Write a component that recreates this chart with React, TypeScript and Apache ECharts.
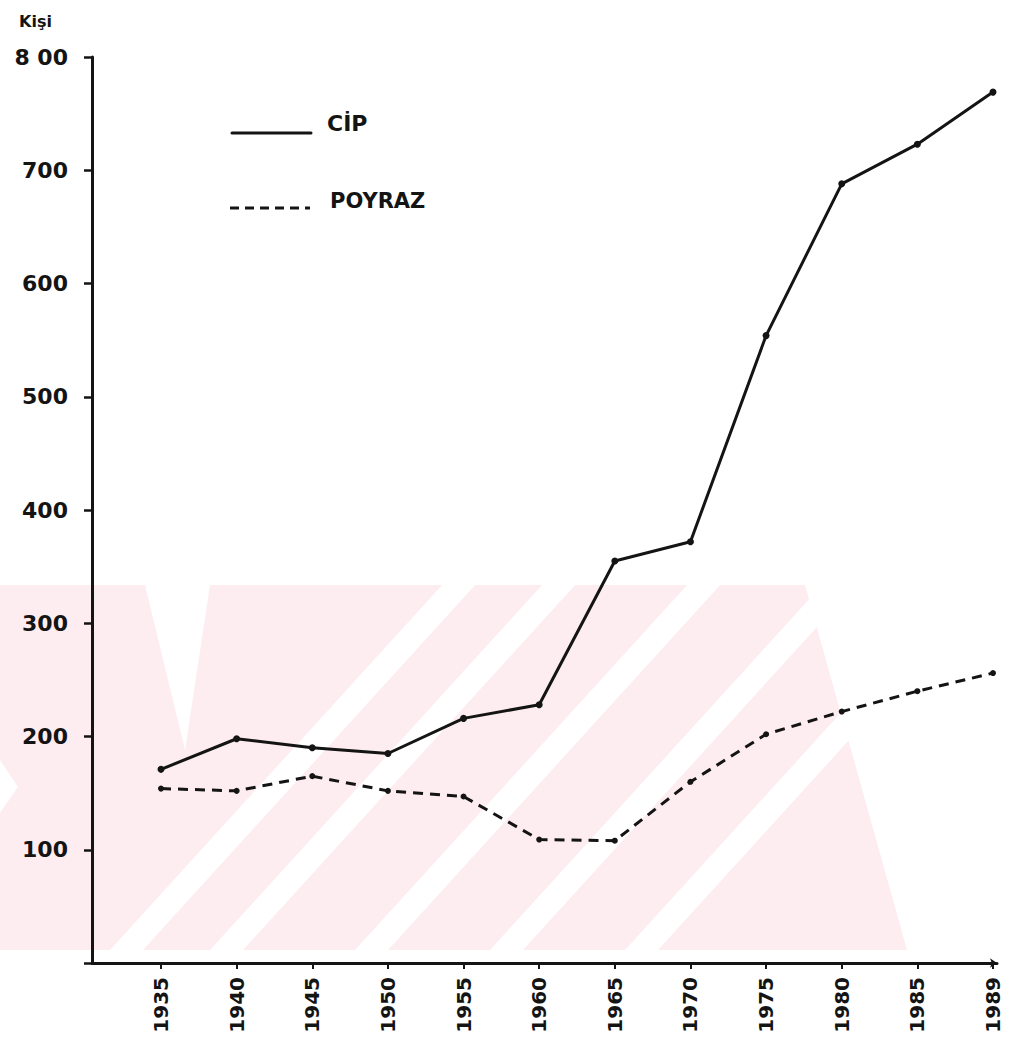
import React, { useEffect, useRef } from "react";
import * as echarts from "echarts";

const years = ["1935", "1940", "1945", "1950", "1955", "1960", "1965", "1970", "1975", "1980", "1985", "1989"];
const cip = [171, 198, 190, 185, 216, 228, 355, 372, 554, 688, 723, 769];
const poyraz = [154, 152, 165, 152, 147, 109, 108, 160, 202, 222, 240, 256];
const yMax = 800;
const yStep = 100;
const unitLabel = "Kişi";
const seriesNames = ["CİP", "POYRAZ"];

const INK = "#141414";
const PINK = "#fdedf0";
const FONT = "DejaVu Sans, sans-serif";

// faint background watermark (decoration, not data)
const wmTop = 585;
const wmBottom = 950;
const wmStripeStarts = [110, 210, 355, 490, 625];
const wmStripeWidth = 33;
const wmSlope = 0.91;

function watermark(): any[] {
  const h = wmBottom - wmTop;
  const els: any[] = [
    {
      type: "polygon",
      z: -100,
      silent: true,
      shape: {
        points: [
          [0, wmTop],
          [805, wmTop],
          [907, wmBottom],
          [0, wmBottom],
        ],
      },
      style: { fill: PINK },
    },
  ];
  wmStripeStarts.forEach((x0) => {
    els.push({
      type: "polygon",
      z: -99,
      silent: true,
      shape: {
        points: [
          [x0, wmBottom],
          [x0 + wmStripeWidth, wmBottom],
          [x0 + wmStripeWidth + h * wmSlope, wmTop],
          [x0 + h * wmSlope, wmTop],
        ],
      },
      style: { fill: "#ffffff" },
    });
  });
  els.push({
    type: "polygon",
    z: -99,
    silent: true,
    shape: { points: [[145, wmTop], [210, wmTop], [185, 750]] },
    style: { fill: "#ffffff" },
  });
  els.push({
    type: "polygon",
    z: -99,
    silent: true,
    shape: { points: [[0, 760], [18, 787], [0, 813]] },
    style: { fill: "#ffffff" },
  });
  return els;
}

export default function App() {
  const ref = useRef<HTMLDivElement>(null);

  useEffect(() => {
    if (!ref.current) return;
    const chart = echarts.init(ref.current, null, { renderer: "svg" });
    const option: any = {
      animation: false,
      backgroundColor: "#ffffff",
      grid: [
        { left: 161, right: 28, top: 57, bottom: 84 },
        { left: 92, right: 24, top: 57, bottom: 84 },
      ],
      xAxis: [
        {
          gridIndex: 0,
          type: "category",
          data: years,
          boundaryGap: false,
          axisLine: { show: false },
          axisTick: { show: true, length: 6, lineStyle: { color: INK, width: 2 } },
          axisLabel: {
            rotate: 90,
            margin: 14,
            color: INK,
            fontFamily: FONT,
            fontWeight: "bold",
            fontSize: 20,
            interval: 0,
          },
          splitLine: { show: false },
        },
        {
          gridIndex: 1,
          type: "value",
          min: 0,
          max: 1,
          axisLine: {
            show: true,
            lineStyle: { color: INK, width: 3 },
            symbol: ["none", "arrow"],
            symbolSize: [7, 7],
          },
          axisTick: { show: false },
          axisLabel: { show: false },
          splitLine: { show: false },
        },
      ],
      yAxis: [
        {
          gridIndex: 0,
          type: "value",
          min: 0,
          max: yMax,
          show: false,
        },
        {
          gridIndex: 1,
          type: "value",
          min: 0,
          max: yMax,
          interval: yStep,
          axisLine: { show: true, lineStyle: { color: INK, width: 3 } },
          axisTick: { show: true, length: 8, lineStyle: { color: INK, width: 2.5 } },
          splitLine: { show: false },
          axisLabel: {
            margin: 24,
            color: INK,
            fontFamily: FONT,
            fontWeight: "bold",
            fontSize: 22,
            formatter: (v: number) => (v === 0 ? "" : v === yMax ? "8 00" : String(v)),
          },
        },
      ],
      title: {
        text: unitLabel,
        left: 14,
        top: 8,
        textStyle: { color: INK, fontFamily: FONT, fontWeight: "bold", fontSize: 16 },
      },
      graphic: [
        ...watermark(),
        {
          type: "line",
          shape: { x1: 232, y1: 133, x2: 311, y2: 133 },
          style: { stroke: INK, lineWidth: 3, lineCap: "round" },
        },
        {
          type: "text",
          left: 327,
          top: 112,
          style: { text: seriesNames[0], fill: INK, font: `bold 22px ${FONT}` },
        },
        {
          type: "line",
          shape: { x1: 230, y1: 208, x2: 310, y2: 208 },
          style: { stroke: INK, lineWidth: 3, lineDash: [9, 6] },
        },
        {
          type: "text",
          left: 330,
          top: 190,
          style: { text: seriesNames[1], fill: INK, font: `bold 21px ${FONT}` },
        },
      ],
      series: [
        {
          name: seriesNames[0],
          type: "line",
          xAxisIndex: 0,
          yAxisIndex: 0,
          data: cip,
          symbol: "circle",
          symbolSize: 7,
          itemStyle: { color: INK },
          lineStyle: { color: INK, width: 3 },
          z: 5,
        },
        {
          name: seriesNames[1],
          type: "line",
          xAxisIndex: 0,
          yAxisIndex: 0,
          data: poyraz,
          symbol: "circle",
          symbolSize: 6,
          itemStyle: { color: INK },
          lineStyle: { color: INK, width: 3, type: [10, 7] },
          z: 5,
        },
      ],
    };
    chart.setOption(option);
    return () => chart.dispose();
  }, []);

  return (
    <div
      ref={ref}
      style={{ position: "fixed", left: 0, top: 0, width: 1021, height: 1047, background: "#fff" }}
    />
  );
}
